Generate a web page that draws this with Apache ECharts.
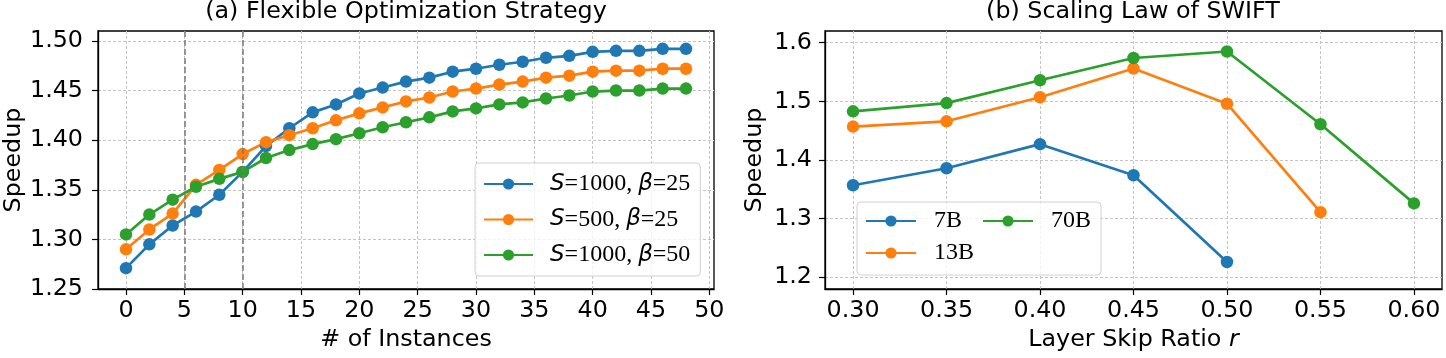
<!DOCTYPE html>
<html>
<head>
<meta charset="utf-8">
<script src="https://cdn.jsdelivr.net/npm/echarts@6/dist/echarts.min.js"></script>
<style>
html, body { margin: 0; padding: 0; background: #fff; }
#chart { width: 1446px; height: 358px; }
</style>
</head>
<body>
<div id="chart"></div>
<script>
// ---- (a) Flexible Optimization Strategy ----
var instances = [0, 2, 4, 6, 8, 10, 12, 14, 16, 18, 20, 22, 24, 26, 28, 30, 32, 34, 36, 38, 40, 42, 44, 46, 48];
var s1000b25 = [1.271, 1.295, 1.314, 1.328, 1.345, 1.368, 1.394, 1.412, 1.428, 1.436, 1.447, 1.453, 1.459, 1.463, 1.469, 1.472, 1.476, 1.479, 1.483, 1.485, 1.489, 1.490, 1.490, 1.492, 1.492];
var s500b25 = [1.290, 1.310, 1.326, 1.355, 1.370, 1.386, 1.398, 1.405, 1.412, 1.420, 1.427, 1.433, 1.439, 1.443, 1.449, 1.452, 1.456, 1.459, 1.463, 1.465, 1.469, 1.470, 1.470, 1.472, 1.472];
var s1000b50 = [1.305, 1.325, 1.340, 1.353, 1.361, 1.368, 1.382, 1.390, 1.396, 1.401, 1.407, 1.413, 1.418, 1.423, 1.429, 1.432, 1.436, 1.438, 1.442, 1.445, 1.449, 1.450, 1.450, 1.452, 1.452];
var markX = [5, 10];
var instTicks = [0, 5, 10, 15, 20, 25, 30, 35, 40, 45, 50];
var speedTicksA = [1.25, 1.30, 1.35, 1.40, 1.45, 1.50];
var namesA = ['S=1000, β=25', 'S=500, β=25', 'S=1000, β=50'];
var richNamesA = {
    'S=1000, β=25': '{sp| }{i|S}{n|=1000, }{i|β}{n|=25}',
    'S=500, β=25': '{sp| }{i|S}{n|=500, }{i|β}{n|=25}',
    'S=1000, β=50': '{sp| }{i|S}{n|=1000, }{i|β}{n|=50}'
};

// ---- (b) Scaling Law of SWIFT ----
var ratios = [0.30, 0.35, 0.40, 0.45, 0.50, 0.55, 0.60];
var sp7b = [1.357, 1.386, 1.427, 1.374, 1.226];
var sp13b = [1.457, 1.466, 1.507, 1.556, 1.496, 1.311];
var sp70b = [1.483, 1.497, 1.536, 1.574, 1.585, 1.461, 1.326];
var ratioTicks = [0.30, 0.35, 0.40, 0.45, 0.50, 0.55, 0.60];
var speedTicksB = [1.2, 1.3, 1.4, 1.5, 1.6];
var legendRow1B = ['7B', '70B'];
var legendRow2B = ['13B'];

var colors = ['#1f77b4', '#ff7f0e', '#2ca02c'];
var font = 'DejaVu Sans';
var fs = 23.8;

function pairs(xs, ys) {
    return ys.map(function (y, i) { return [xs[i], y]; });
}

function lineSeries(name, data, color, idx) {
    return {
        name: name,
        type: 'line',
        xAxisIndex: idx,
        yAxisIndex: idx,
        data: data,
        symbol: 'circle',
        symbolSize: 12.5,
        color: color,
        lineStyle: { width: 2.7, color: color },
        itemStyle: { color: color },
        z: 3
    };
}

var gridLine = { show: true, lineStyle: { color: '#c4c4c4', type: [3, 2], width: 1 } };
var axisLine = { show: true, onZero: false, lineStyle: { color: '#000', width: 1.3 } };
var tickStyle = { show: true, length: 6, lineStyle: { color: '#000', width: 1.2 } };
var labelStyle = { color: '#000', fontSize: fs, fontFamily: font };
var nameStyle = { fontSize: fs, fontFamily: font, color: '#000' };

// legend text for panel (b): spacer + serif label
var legendTextB = {
    fontSize: 24, color: '#000', fontFamily: 'Liberation Serif',
    rich: {
        sp: { width: 13 },
        n: { fontFamily: 'Liberation Serif', fontSize: 24, color: '#000' }
    }
};
function fmtB(name) { return '{sp| }{n|' + name + '}'; }

var chart = echarts.init(document.getElementById('chart'), null, { renderer: 'canvas' });

var option = {
    animation: false,
    backgroundColor: '#fff',
    title: [
        {
            text: '(a) Flexible Optimization Strategy',
            left: 406, top: 0, textAlign: 'center', padding: 0,
            textStyle: { fontSize: fs, fontWeight: 'normal', fontFamily: font, color: '#000' }
        },
        {
            text: '(b) Scaling Law of SWIFT',
            left: 1133, top: 0, textAlign: 'center', padding: 0,
            textStyle: { fontSize: fs, fontWeight: 'normal', fontFamily: font, color: '#000' }
        }
    ],
    grid: [
        { left: 98, right: 732, top: 31, bottom: 69, show: true, borderColor: '#000', borderWidth: 1.3, containLabel: false },
        { left: 825, right: 4, top: 31, bottom: 69, show: true, borderColor: '#000', borderWidth: 1.3, containLabel: false }
    ],
    xAxis: [
        {
            type: 'value', gridIndex: 0, min: -2.4, max: 50.4,
            name: '# of Instances', nameLocation: 'middle', nameGap: 39,
            nameTextStyle: nameStyle,
            axisLine: axisLine,
            axisTick: Object.assign({ customValues: instTicks }, tickStyle),
            axisLabel: Object.assign({ customValues: instTicks, margin: 10 }, labelStyle),
            splitLine: gridLine
        },
        {
            type: 'value', gridIndex: 1, min: 0.285, max: 0.615,
            name: 'Layer Skip Ratio {i|r}', nameLocation: 'middle', nameGap: 39,
            nameTextStyle: Object.assign({
                rich: { i: { fontSize: fs, fontFamily: font, fontStyle: 'italic', color: '#000' } }
            }, nameStyle),
            axisLine: axisLine,
            axisTick: Object.assign({ customValues: ratioTicks }, tickStyle),
            axisLabel: Object.assign({
                customValues: ratioTicks, margin: 10,
                formatter: function (v) { return v.toFixed(2); }
            }, labelStyle),
            splitLine: gridLine
        }
    ],
    yAxis: [
        {
            type: 'value', gridIndex: 0, min: 1.25, max: 1.51,
            name: 'Speedup', nameLocation: 'middle', nameGap: 72,
            nameTextStyle: nameStyle,
            axisLine: axisLine,
            axisTick: Object.assign({ customValues: speedTicksA }, tickStyle),
            axisLabel: Object.assign({
                customValues: speedTicksA, margin: 15,
                formatter: function (v) { return v.toFixed(2); }
            }, labelStyle),
            splitLine: gridLine
        },
        {
            type: 'value', gridIndex: 1, min: 1.18, max: 1.62,
            name: 'Speedup', nameLocation: 'middle', nameGap: 58,
            nameTextStyle: nameStyle,
            axisLine: axisLine,
            axisTick: Object.assign({ customValues: speedTicksB }, tickStyle),
            axisLabel: Object.assign({
                customValues: speedTicksB, margin: 13,
                formatter: function (v) { return v.toFixed(1); }
            }, labelStyle),
            splitLine: gridLine
        }
    ],
    legend: [
        {
            data: namesA,
            orient: 'vertical',
            left: 475, top: 163,
            padding: [9, 10, 9, 8],
            itemGap: 11.5,
            itemWidth: 49, itemHeight: 14,
            backgroundColor: 'rgba(255,255,255,0.8)',
            borderColor: '#d0d0d0', borderWidth: 1, borderRadius: 4,
            formatter: function (name) { return richNamesA[name]; },
            textStyle: {
                fontSize: 24, lineHeight: 24, color: '#000', fontFamily: 'Liberation Serif',
                rich: {
                    sp: { width: 12 },
                    i: { fontFamily: font, fontStyle: 'italic', fontSize: 23, color: '#000' },
                    n: { fontFamily: 'Liberation Serif', fontSize: 24, color: '#000' }
                }
            }
        },
        {
            // first row of panel (b) legend; its box also covers the second row
            data: legendRow1B,
            orient: 'horizontal',
            left: 857, top: 202,
            padding: [7, 10, 42, 8],
            itemGap: 20,
            itemWidth: 50, itemHeight: 14,
            backgroundColor: 'rgba(255,255,255,0.8)',
            borderColor: '#d0d0d0', borderWidth: 1, borderRadius: 4,
            formatter: fmtB,
            textStyle: legendTextB,
            z: 4
        },
        {
            data: legendRow2B,
            orient: 'horizontal',
            left: 857, top: 241,
            padding: [0, 0, 0, 8],
            itemWidth: 50, itemHeight: 14,
            formatter: fmtB,
            textStyle: legendTextB,
            z: 5
        }
    ],
    series: [
        {
            name: 'marks', type: 'line', xAxisIndex: 0, yAxisIndex: 0, data: [], z: 1,
            markLine: {
                silent: true, symbol: 'none', label: { show: false },
                lineStyle: { color: '#7a7a7a', type: [6, 3], width: 1.5 },
                data: markX.map(function (x) { return { xAxis: x }; })
            }
        },
        lineSeries(namesA[0], pairs(instances, s1000b25), colors[0], 0),
        lineSeries(namesA[1], pairs(instances, s500b25), colors[1], 0),
        lineSeries(namesA[2], pairs(instances, s1000b50), colors[2], 0),
        lineSeries('7B', pairs(ratios, sp7b), colors[0], 1),
        lineSeries('13B', pairs(ratios, sp13b), colors[1], 1),
        lineSeries('70B', pairs(ratios, sp70b), colors[2], 1)
    ]
};

chart.setOption(option);
window.addEventListener('resize', chart.resize);
</script>
</body>
</html>
